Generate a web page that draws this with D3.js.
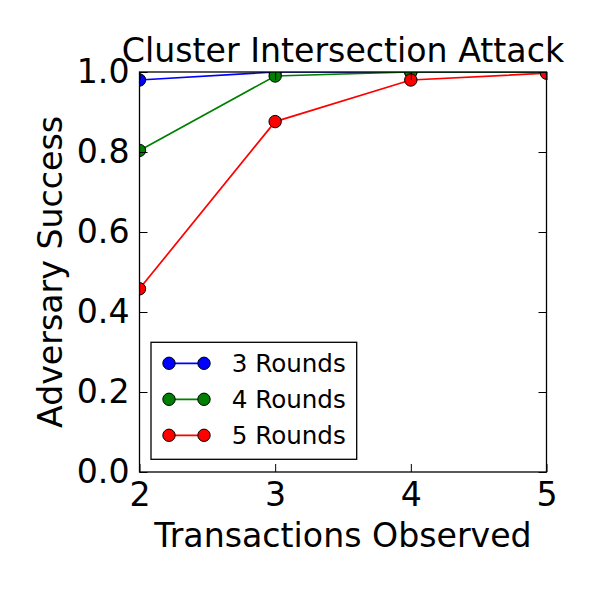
<!DOCTYPE html>
<html><head><meta charset="utf-8">
<script src="https://cdn.jsdelivr.net/npm/d3@7"></script>
<style>body{margin:0;background:#fff}svg{display:block}text{font-family:"DejaVu Sans";fill:#000}</style>
</head><body>
<svg id="c" width="593" height="593"></svg>
<script>
const xValues = [2, 3, 4, 5];
const rounds3 = [0.98, 1.0, 1.0, 1.0];
const rounds4 = [0.804, 0.99, 1.0, 1.0];
const rounds5 = [0.458, 0.876, 0.98, 0.997];
const seriesNames = ["3 Rounds", "4 Rounds", "5 Rounds"];
const seriesColors = ["#0000ff", "#008000", "#ff0000"];
const xTicks = [2, 3, 4, 5];
const yTicks = [0, 0.2, 0.4, 0.6, 0.8, 1.0];
const title = "Cluster Intersection Attack";
const xLabel = "Transactions Observed";
const yLabel = "Adversary Success";

const series = [rounds3, rounds4, rounds5];
const svg = d3.select("#c");
const L = 139.5, R = 546.5, T = 72, B = 472;
const FS = 33.2;
const x = d3.scaleLinear().domain([2, 5]).range([L, R]);
const y = d3.scaleLinear().domain([0, 1]).range([B, T]);

svg.append("defs").append("clipPath").attr("id", "clip")
  .append("rect").attr("x", L).attr("y", T).attr("width", R - L).attr("height", B - T);

const g = svg.append("g").attr("clip-path", "url(#clip)");
series.forEach((s, i) => {
  const pts = xValues.map((xv, j) => [xv, s[j]]);
  g.append("path").attr("d", d3.line().x(d => x(d[0])).y(d => y(d[1]))(pts))
    .attr("fill", "none").attr("stroke", seriesColors[i]).attr("stroke-width", 1.7);
  g.selectAll(null).data(pts).enter().append("circle")
    .attr("cx", d => x(d[0])).attr("cy", d => y(d[1])).attr("r", 6.2)
    .attr("fill", seriesColors[i]).attr("stroke", "#000").attr("stroke-width", 1);
});

// ticks (inward, all sides)
const tl = 8;
const axB = d3.axisBottom(x).tickValues(xTicks).tickSizeInner(-tl).tickSizeOuter(0).tickPadding(10).tickFormat(d3.format("d"));
const axT = d3.axisTop(x).tickValues(xTicks).tickSizeInner(-tl).tickSizeOuter(0).tickFormat("");
const axL = d3.axisLeft(y).tickValues(yTicks).tickSizeInner(-tl).tickSizeOuter(0).tickPadding(10).tickFormat(d3.format(".1f"));
const axR = d3.axisRight(y).tickValues(yTicks).tickSizeInner(-tl).tickSizeOuter(0).tickFormat("");
function style(sel){ sel.select(".domain").remove(); sel.selectAll("line").attr("stroke","#000").attr("stroke-width",1);
  sel.selectAll("text").attr("font-family","DejaVu Sans").attr("font-size",FS).attr("fill","#000"); }
svg.append("g").attr("transform", `translate(0,${B})`).call(axB).call(style);
svg.append("g").attr("transform", `translate(0,${T})`).call(axT).call(style);
svg.append("g").attr("transform", `translate(${L},0)`).call(axL).call(style);
svg.append("g").attr("transform", `translate(${R},0)`).call(axR).call(style);

svg.append("rect").attr("x", L).attr("y", T).attr("width", R - L).attr("height", B - T)
  .attr("fill", "none").attr("stroke", "#000").attr("stroke-width", 1.3);

svg.append("text").attr("x", (L + R) / 2).attr("y", 61.5).attr("text-anchor", "middle")
  .attr("font-size", FS).text(title);
svg.append("text").attr("x", (L + R) / 2).attr("y", 546.5).attr("text-anchor", "middle")
  .attr("font-size", FS).text(xLabel);
svg.append("text").attr("transform", `translate(62,${(T + B) / 2}) rotate(-90)`).attr("text-anchor", "middle")
  .attr("font-size", FS).text(yLabel);

// legend
const lg = svg.append("g");
lg.append("rect").attr("x", 151).attr("y", 342.3).attr("width", 205.7).attr("height", 117)
  .attr("fill", "#fff").attr("stroke", "#000").attr("stroke-width", 1.3);
const rowY = [363.3, 399.3, 435.3];
seriesNames.forEach((n, i) => {
  lg.append("line").attr("x1", 169).attr("x2", 204).attr("y1", rowY[i]).attr("y2", rowY[i])
    .attr("stroke", seriesColors[i]).attr("stroke-width", 1.7);
  [169, 204].forEach(cx => lg.append("circle").attr("cx", cx).attr("cy", rowY[i]).attr("r", 6.2)
    .attr("fill", seriesColors[i]).attr("stroke", "#000").attr("stroke-width", 1));
  lg.append("text").attr("x", 231.7).attr("y", rowY[i] + 8.7).attr("font-size", 24.6).text(n);
});
</script>
</body></html>
